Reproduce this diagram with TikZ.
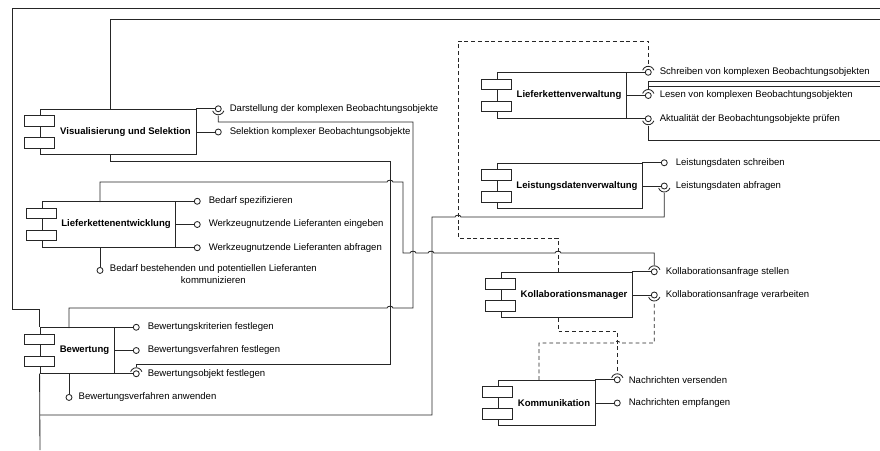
\documentclass[tikz,border=0pt]{standalone}
\usepackage{fontspec}
\setmainfont{Liberation Sans}
\usetikzlibrary{positioning}

\tikzset{
  verb/.style={line width=0.6pt, black!85},
  abh/.style={verb, dash pattern=on 2.8pt off 2pt},
  komp/.style={verb, draw, fill=white, minimum height=1.14cm, inner sep=0pt},
  reiter/.style={verb, fill=white},
  titel/.style={font=\fontsize{6.8}{8}\selectfont\bfseries, inner sep=0pt},
  ball/.style={verb, draw, fill=white, circle, minimum size=0.15cm, inner sep=0pt},
  txt/.style={font=\fontsize{6.8}{7.9}\selectfont, inner sep=1pt, anchor=west},
  sock/.style={verb, shorten >=0.085cm},
}
% Socket (Halbkreis) um eine Schnittstelle, #2 = Richtung der ankommenden Linie
\newcommand{\sockel}[2]{\draw[verb] (#1.center) ++(#2-70:0.15cm) arc[start angle=#2-70, end angle=#2+70, radius=0.15cm];}

\begin{document}
\begin{tikzpicture}[x=0.025cm,y=0.025cm]
\useasboundingbox (0,0) rectangle (880,-450);

% Komponenten
\node[komp, minimum width=3.9cm] (vis) at (118,-132) {};
\node[komp, minimum width=3.325cm] (lke) at (108.5,-224.5) {};
\node[komp, minimum width=1.85cm] (bew) at (77,-350.5) {};
\node[komp, minimum width=3.225cm] (lkv) at (561.5,-95.5) {};
\node[komp, minimum width=3.625cm] (ldv) at (569.5,-186) {};
\node[komp, minimum width=3.275cm] (kol) at (566.5,-295) {};
\node[komp, minimum width=2.425cm] (kom) at (546.5,-403) {};

\foreach \k in {vis,lke,bew,lkv,ldv,kol,kom}{
  \draw[reiter] ([xshift=-0.375cm,yshift=0.145cm]\k.west) rectangle ([xshift=0.375cm,yshift=0.405cm]\k.west);
  \draw[reiter] ([xshift=-0.375cm,yshift=-0.405cm]\k.west) rectangle ([xshift=0.375cm,yshift=-0.145cm]\k.west);
}

\node[titel] (vis-t) at ([xshift=0.1875cm]vis.center) {Visualisierung und Selektion};
\node[titel] (lke-t) at ([xshift=0.1875cm]lke.center) {Lieferkettenentwicklung};
\node[titel] (bew-t) at ([xshift=0.1875cm]bew.center) {Bewertung};
\node[titel] (lkv-t) at ([xshift=0.1875cm]lkv.center) {Lieferkettenverwaltung};
\node[titel] (ldv-t) at ([xshift=0.1875cm]ldv.center) {Leistungsdatenverwaltung};
\node[titel] (kol-t) at ([xshift=0.1875cm]kol.center) {Kollaborationsmanager};
\node[titel] (kom-t) at ([xshift=0.1875cm]kom.center) {Kommunikation};

% Anschlusspunkte
\coordinate (vis-o) at (110,-109);
\coordinate (vis-u) at (110,-155);
\coordinate (lke-o) at (100,-202);
\coordinate (lke-u) at (100,-247);
\coordinate (bew-o) at (69,-328);
\coordinate (bew-u) at (69,-373);
\coordinate (kol-o) at (558,-272);
\coordinate (kol-u) at (558,-318);
\coordinate (kom-o) at (539,-380);
\coordinate (abzw) at (40,-415);
\coordinate (unten) at (40,-450);
\coordinate (rechts1) at (880,-8);
\coordinate (rechts2) at (880,-19);
\coordinate (rechts3) at (880,-81);
\coordinate (rechts4) at (880,-86);
\coordinate (rechts5) at (880,-140);

% Schnittstellen
\node[ball, right=0.46cm of vis.north east] (vis-dar) {};
\node[ball, right=0.46cm of vis.east] (vis-sel) {};
\node[ball, right=0.46cm of lke.north east] (lke-bed) {};
\node[ball, right=0.46cm of lke.east] (lke-ein) {};
\node[ball, right=0.46cm of lke.south east] (lke-abf) {};
\node[ball, below=0.5cm of lke-u] (lke-kom) {};
\node[ball, right=0.46cm of bew.north east] (bew-kri) {};
\node[ball, right=0.46cm of bew.east] (bew-ver) {};
\node[ball, right=0.46cm of bew.south east] (bew-obj) {};
\node[ball, below=0.525cm of bew-u] (bew-anw) {};
\node[ball, right=0.46cm of lkv.north east] (lkv-sch) {};
\node[ball, right=0.46cm of lkv.east] (lkv-les) {};
\node[ball, right=0.46cm of lkv.south east] (lkv-akt) {};
\node[ball, right=0.46cm of ldv.north east] (ldv-sch) {};
\node[ball, right=0.46cm of ldv.east] (ldv-abf) {};
\node[ball, right=0.46cm of kol.north east] (kol-ste) {};
\node[ball, right=0.46cm of kol.east] (kol-ver) {};
\node[ball, right=0.46cm of kom.north east] (kom-ver) {};
\node[ball, right=0.46cm of kom.east] (kom-emp) {};

\draw[verb] (vis.north east) -- (vis-dar);
\draw[verb] (vis.east) -- (vis-sel);
\draw[verb] (lke.north east) -- (lke-bed);
\draw[verb] (lke.east) -- (lke-ein);
\draw[verb] (lke.south east) -- (lke-abf);
\draw[verb] (lke-u) -- (lke-kom);
\draw[verb] (bew.north east) -- (bew-kri);
\draw[verb] (bew.east) -- (bew-ver);
\draw[verb] (bew.south east) -- (bew-obj);
\draw[verb] (bew-u) -- (bew-anw);
\draw[verb] (lkv.north east) -- (lkv-sch);
\draw[verb] (lkv.east) -- (lkv-les);
\draw[verb] (lkv.south east) -- (lkv-akt);
\draw[verb] (ldv.north east) -- (ldv-sch);
\draw[verb] (ldv.east) -- (ldv-abf);
\draw[verb] (kol.north east) -- (kol-ste);
\draw[verb] (kol.east) -- (kol-ver);
\draw[verb] (kom.north east) -- (kom-ver);
\draw[verb] (kom.east) -- (kom-emp);

\node[txt, right=0.16cm of vis-dar] (vis-dar-t) {Darstellung der komplexen Beobachtungsobjekte};
\node[txt, right=0.16cm of vis-sel] (vis-sel-t) {Selektion komplexer Beobachtungsobjekte};
\node[txt, right=0.16cm of lke-bed] (lke-bed-t) {Bedarf spezifizieren};
\node[txt, right=0.16cm of lke-ein] (lke-ein-t) {Werkzeugnutzende Lieferanten eingeben};
\node[txt, right=0.16cm of lke-abf] (lke-abf-t) {Werkzeugnutzende Lieferanten abfragen};
\node[txt, align=center, right=0.12cm of lke-kom, yshift=-0.09cm] (lke-kom-t) {Bedarf bestehenden und potentiellen Lieferanten\\kommunizieren};
\node[txt, right=0.16cm of bew-kri] (bew-kri-t) {Bewertungskriterien festlegen};
\node[txt, right=0.16cm of bew-ver] (bew-ver-t) {Bewertungsverfahren festlegen};
\node[txt, right=0.16cm of bew-obj] (bew-obj-t) {Bewertungsobjekt festlegen};
\node[txt, right=0.115cm of bew-anw] (bew-anw-t) {Bewertungsverfahren anwenden};
\node[txt, right=0.16cm of lkv-sch] (lkv-sch-t) {Schreiben von komplexen Beobachtungsobjekten};
\node[txt, right=0.16cm of lkv-les] (lkv-les-t) {Lesen von komplexen Beobachtungsobjekten};
\node[txt, right=0.16cm of lkv-akt] (lkv-akt-t) {Aktualität der Beobachtungsobjekte prüfen};
\node[txt, right=0.16cm of ldv-sch] (ldv-sch-t) {Leistungsdaten schreiben};
\node[txt, right=0.16cm of ldv-abf] (ldv-abf-t) {Leistungsdaten abfragen};
\node[txt, right=0.16cm of kol-ste] (kol-ste-t) {Kollaborationsanfrage stellen};
\node[txt, right=0.16cm of kol-ver] (kol-ver-t) {Kollaborationsanfrage verarbeiten};
\node[txt, right=0.16cm of kom-ver] (kom-ver-t) {Nachrichten versenden};
\node[txt, right=0.16cm of kom-emp] (kom-emp-t) {Nachrichten empfangen};

% Sockets
\sockel{vis-dar}{-90}
\sockel{bew-obj}{90}
\sockel{lkv-sch}{90}
\sockel{lkv-les}{90}
\sockel{lkv-akt}{-90}
\sockel{ldv-abf}{-90}
\sockel{kol-ste}{90}
\sockel{kol-ver}{-90}
\sockel{kom-ver}{90}

% Verbindungen
\draw[verb] (rechts1) -| (12,-309) -| (bew.north west);
\draw[verb] (vis-o) |- (rechts2);
\draw[sock] (rechts3) -| (lkv-les);
\draw[sock] (rechts4) -| (lkv-les);
\draw[sock] (rechts5) -| (lkv-akt);
\draw[sock] (vis-u) |- (390,-161) -- (390,-364) -| (bew-obj);
\draw[sock] (bew-o) -- (69,-308) -- (387,-308) to[out=90,in=90] (393,-308) -- (413,-308) -- (413,-122) -| (vis-dar);
\draw[sock] (lke-o) -- (100,-182) -- (387,-182) to[out=90,in=90] (393,-182) -- (403,-182) -- (403,-253)
  -- (410,-253) to[out=90,in=90] (416,-253) -- (428,-253) to[out=90,in=90] (434,-253)
  -- (555,-253) to[out=90,in=90] (561,-253) -| (kol-ste);
\draw[verb] (bew.south west) -- (unten);
\draw[sock] (abzw) -| (432,-217) -- (455,-217) to[out=90,in=90] (461,-217) -| (ldv-abf);

% Abhaengigkeiten
\draw[abh, shorten >=0.085cm] (kol-o) -- (558,-238) -| (458,-41) -| (lkv-sch);
\draw[abh, shorten >=0.085cm] (kol-u) -- (558,-331) -| (kom-ver);
\draw[abh, shorten >=0.085cm] (kom-o) -- (539,-343) -- (614,-343) to[out=90,in=90] (620,-343) -| (kol-ver);
\end{tikzpicture}
\end{document}
